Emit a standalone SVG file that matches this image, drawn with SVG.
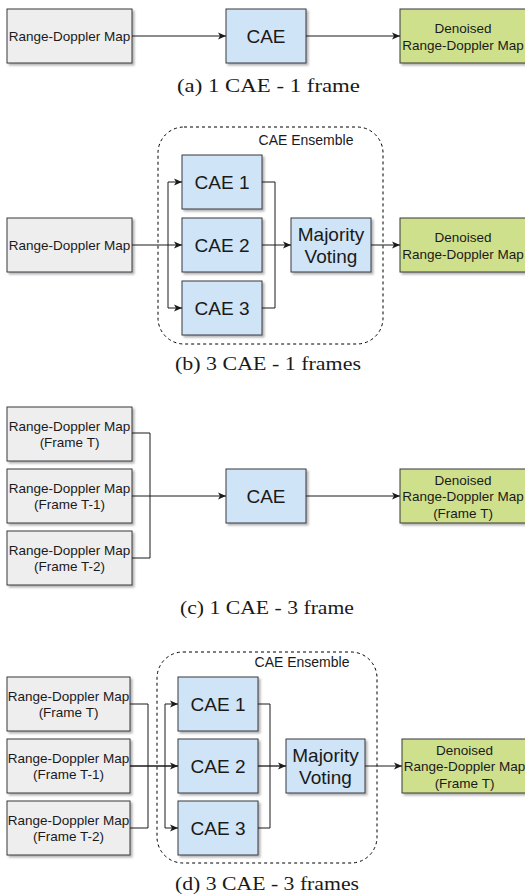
<svg xmlns="http://www.w3.org/2000/svg" width="525" height="896" viewBox="0 0 525 896">
<style>
  .box{stroke:#36393d;stroke-width:1;filter:url(#sh)}
  .gray{fill:#efeeee}
  .blue{fill:#cfe4f7}
  .green{fill:#cfe08c}
  .ens{fill:none;stroke:#000;stroke-width:1;stroke-dasharray:3 3}
  .t{font-family:"Liberation Sans",Arial,sans-serif;font-size:13.5px;fill:#1a1a1a;text-anchor:middle}
  .tb{font-family:"Liberation Sans",Arial,sans-serif;font-size:19px;fill:#1a1a1a;text-anchor:middle}
  .te{font-family:"Liberation Sans",Arial,sans-serif;font-size:14px;fill:#1a1a1a;text-anchor:middle}
  .cap{font-family:"Liberation Serif","Times New Roman",serif;font-size:18px;fill:#1a1a1a}
  .c{fill:none;stroke:#1a1a1a;stroke-width:1}
  .a{marker-end:url(#arr)}
</style>
<defs>
  <filter id="sh" x="-10%" y="-10%" width="130%" height="140%">
    <feDropShadow dx="2" dy="2" stdDeviation="1" flood-color="#000" flood-opacity="0.3"/>
  </filter>
  <marker id="arr" markerUnits="userSpaceOnUse" markerWidth="9" markerHeight="8" refX="8" refY="4" orient="auto">
    <path d="M0,0.5 L8,4 L0,7.5 L2,4 Z" fill="#1a1a1a"/>
  </marker>
</defs>

<!-- (a) -->
<g id="a-input"><rect class="box gray" x="7" y="9" width="125" height="54"/><text class="t" x="69.5" y="40.5">Range-Doppler Map</text></g>
<g id="a-cae"><rect class="box blue" x="226" y="9" width="80" height="54"/><text class="tb" x="266" y="42.5">CAE</text></g>
<g id="a-out"><rect class="box green" x="400" y="9" width="126" height="54"/><text class="t" x="463" y="32.5">Denoised</text><text class="t" x="463" y="49.5">Range-Doppler Map</text></g>
<g id="a-edges">
  <path class="c a" d="M132,36 H226"/>
  <path class="c a" d="M306,36 H400"/>
</g>
<text id="cap-a" class="cap" x="177" y="92" textLength="183" lengthAdjust="spacingAndGlyphs">(a) 1 CAE - 1 frame</text>

<!-- (b) -->
<g id="b-ensemble"><rect class="ens" x="158" y="127" width="225" height="217" rx="26"/><text class="te" x="306" y="145">CAE Ensemble</text></g>
<g id="b-input"><rect class="box gray" x="7" y="218" width="125" height="54"/><text class="t" x="69.5" y="249.5">Range-Doppler Map</text></g>
<g id="b-cae1"><rect class="box blue" x="182" y="155" width="80" height="54"/><text class="tb" x="222" y="188.5">CAE 1</text></g>
<g id="b-cae2"><rect class="box blue" x="182" y="218" width="80" height="54"/><text class="tb" x="222" y="251.5">CAE 2</text></g>
<g id="b-cae3"><rect class="box blue" x="182" y="281" width="80" height="54"/><text class="tb" x="222" y="314.5">CAE 3</text></g>
<g id="b-vote"><rect class="box blue" x="291" y="218" width="80" height="54"/><text class="tb" x="331" y="240.5">Majority</text><text class="tb" x="331" y="263">Voting</text></g>
<g id="b-out"><rect class="box green" x="400" y="218" width="126" height="54"/><text class="t" x="463" y="241.5">Denoised</text><text class="t" x="463" y="258.5">Range-Doppler Map</text></g>
<g id="b-edges">
  <path class="c a" d="M132,245 H182"/>
  <path class="c a" d="M168,245 V182 H182"/>
  <path class="c a" d="M168,245 V308 H182"/>
  <path class="c" d="M262,182 H275 V245"/>
  <path class="c" d="M262,308 H275 V245"/>
  <path class="c a" d="M262,245 H291"/>
  <path class="c a" d="M371,245 H400"/>
</g>
<text id="cap-b" class="cap" x="175" y="370" textLength="186" lengthAdjust="spacingAndGlyphs">(b) 3 CAE - 1 frames</text>

<!-- (c) -->
<g id="c-in1"><rect class="box gray" x="7" y="407" width="125" height="54"/><text class="t" x="69.5" y="430.5">Range-Doppler Map</text><text class="t" x="69.5" y="447">(Frame T)</text></g>
<g id="c-in2"><rect class="box gray" x="7" y="469" width="125" height="54"/><text class="t" x="69.5" y="492.5">Range-Doppler Map</text><text class="t" x="69.5" y="509">(Frame T-1)</text></g>
<g id="c-in3"><rect class="box gray" x="7" y="531" width="125" height="54"/><text class="t" x="69.5" y="554.5">Range-Doppler Map</text><text class="t" x="69.5" y="571">(Frame T-2)</text></g>
<g id="c-cae"><rect class="box blue" x="226" y="469" width="80" height="54"/><text class="tb" x="266" y="502.5">CAE</text></g>
<g id="c-out"><rect class="box green" x="400" y="469" width="126" height="54"/><text class="t" x="463" y="484.5">Denoised</text><text class="t" x="463" y="501">Range-Doppler Map</text><text class="t" x="463" y="517.5">(Frame T)</text></g>
<g id="c-edges">
  <path class="c" d="M132,433 H150 V558 H132"/>
  <path class="c a" d="M132,496 H226"/>
  <path class="c a" d="M306,496 H400"/>
</g>
<text id="cap-c" class="cap" x="180" y="614" textLength="174" lengthAdjust="spacingAndGlyphs">(c) 1 CAE - 3 frame</text>

<!-- (d) -->
<g id="d-ensemble"><rect class="ens" x="157" y="652" width="220" height="211" rx="26"/><text class="te" x="302" y="667">CAE Ensemble</text></g>
<g id="d-in1"><rect class="box gray" x="7" y="677" width="123" height="54"/><text class="t" x="68.5" y="700.5">Range-Doppler Map</text><text class="t" x="68.5" y="717">(Frame T)</text></g>
<g id="d-in2"><rect class="box gray" x="7" y="739" width="123" height="54"/><text class="t" x="68.5" y="762.5">Range-Doppler Map</text><text class="t" x="68.5" y="779">(Frame T-1)</text></g>
<g id="d-in3"><rect class="box gray" x="7" y="801" width="123" height="54"/><text class="t" x="68.5" y="824.5">Range-Doppler Map</text><text class="t" x="68.5" y="841">(Frame T-2)</text></g>
<g id="d-cae1"><rect class="box blue" x="178" y="677" width="80" height="54"/><text class="tb" x="218" y="710.5">CAE 1</text></g>
<g id="d-cae2"><rect class="box blue" x="178" y="739" width="80" height="54"/><text class="tb" x="218" y="772.5">CAE 2</text></g>
<g id="d-cae3"><rect class="box blue" x="178" y="801" width="80" height="54"/><text class="tb" x="218" y="834.5">CAE 3</text></g>
<g id="d-vote"><rect class="box blue" x="286" y="739" width="79" height="54"/><text class="tb" x="325.5" y="761.5">Majority</text><text class="tb" x="325.5" y="784">Voting</text></g>
<g id="d-out"><rect class="box green" x="402" y="739" width="125" height="54"/><text class="t" x="464.5" y="754.5">Denoised</text><text class="t" x="464.5" y="771">Range-Doppler Map</text><text class="t" x="464.5" y="787.5">(Frame T)</text></g>
<g id="d-edges">
  <path class="c" d="M130,704 H148 V828 H130"/>
  <path class="c a" d="M130,766 H178" style="stroke-width:1.6"/>
  <path class="c a" d="M165,766 V704 H178"/>
  <path class="c a" d="M165,766 V828 H178"/>
  <path class="c" d="M258,704 H270 V766"/>
  <path class="c" d="M258,828 H270 V766"/>
  <path class="c a" d="M258,766 H286" style="stroke-width:1.3"/>
  <path class="c a" d="M365,766 H402"/>
</g>
<text id="cap-d" class="cap" x="175" y="890" textLength="184" lengthAdjust="spacingAndGlyphs">(d) 3 CAE - 3 frames</text>
</svg>
